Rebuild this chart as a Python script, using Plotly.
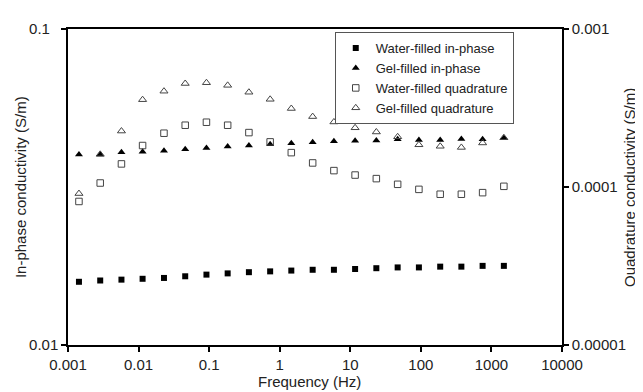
import plotly.graph_objects as go

freq = [0.00143, 0.00286, 0.00572, 0.0114, 0.0229, 0.0458, 0.0916, 0.183, 0.366, 0.732,
        1.46, 2.93, 5.86, 11.7, 23.4, 46.9, 93.8, 188, 375, 750, 1500]

water_inphase = [0.01585, 0.0160, 0.0161, 0.0162, 0.0163, 0.0165, 0.0167, 0.01685, 0.0170, 0.0171,
                 0.0172, 0.0173, 0.0173, 0.0174, 0.0175, 0.0176, 0.0176, 0.0177, 0.0177, 0.0178, 0.0178]
gel_inphase = [0.0401, 0.0401, 0.0407, 0.0409, 0.0412, 0.0416, 0.0420, 0.0425, 0.0428, 0.0432,
               0.0435, 0.0438, 0.0441, 0.0443, 0.0444, 0.0448, 0.0445, 0.0445, 0.0449, 0.0448, 0.0452]
water_quad = [8.1e-5, 1.06e-4, 1.40e-4, 1.83e-4, 2.19e-4, 2.46e-4, 2.57e-4, 2.46e-4, 2.21e-4, 1.93e-4,
              1.65e-4, 1.42e-4, 1.27e-4, 1.19e-4, 1.13e-4, 1.04e-4, 9.66e-5, 9.0e-5, 9.0e-5, 9.21e-5, 1.01e-4]
gel_quad = [9.09e-5, 1.61e-4, 2.26e-4, 3.57e-4, 4.04e-4, 4.52e-4, 4.57e-4, 4.40e-4, 3.98e-4, 3.59e-4,
            3.14e-4, 2.79e-4, 2.58e-4, 2.37e-4, 2.23e-4, 2.08e-4, 1.85e-4, 1.81e-4, 1.78e-4, 1.90e-4, 2.05e-4]

x_ticks = [0.001, 0.01, 0.1, 1, 10, 100, 1000, 10000]
x_ticktext = ["0.001", "0.01", "0.1", "1", "10", "100", "1000", "10000"]
left_ticks = [0.01, 0.1]
left_ticktext = ["0.01", "0.1\u2007"]
right_ticks = [0.00001, 0.0001, 0.001]
right_ticktext = ["0.00001", "0.0001", "0.001"]

x_title = "Frequency (Hz)"
left_title = "In-phase conductivity (S/m)"
right_title = "Quadrature conductivity (S/m)"

FONT = "Liberation Sans, Arial, Helvetica, sans-serif"
TXT = "#222222"

fig = go.Figure()
fig.add_trace(go.Scatter(x=freq, y=water_inphase, mode="markers", name="Water-filled in-phase",
                         marker=dict(symbol="square", size=6, color="black")))
fig.add_trace(go.Scatter(x=freq, y=gel_inphase, mode="markers", name="Gel-filled in-phase",
                         marker=dict(symbol="triangle-up", size=7, color="black")))
fig.add_trace(go.Scatter(x=freq, y=water_quad, mode="markers", name="Water-filled quadrature", yaxis="y2",
                         marker=dict(symbol="square-open", size=6.5, color="#444444", line=dict(width=1))))
fig.add_trace(go.Scatter(x=freq, y=gel_quad, mode="markers", name="Gel-filled quadrature", yaxis="y2",
                         marker=dict(symbol="triangle-up-open", size=7, color="#444444", line=dict(width=1))))

axis_common = dict(showgrid=False, zeroline=False, showline=True, linecolor="black", linewidth=1.5,
                   ticks="outside", ticklen=5, tickcolor="black", tickwidth=1.5,
                   tickfont=dict(family=FONT, size=15, color=TXT))

title_font = dict(family=FONT, size=15, color=TXT)

# the page body has an 8px default margin, so the figure is 8px smaller than the window
fig.update_layout(
    width=635, height=384,
    margin=dict(l=60, r=81, t=12, b=47),
    paper_bgcolor="white", plot_bgcolor="white",
    showlegend=True,
    legend=dict(x=0.54, y=0.99, xanchor="left", yanchor="top",
                bgcolor="white", bordercolor="#555555", borderwidth=1,
                font=dict(family=FONT, size=13, color=TXT), tracegroupgap=0, itemwidth=30),
    xaxis=dict(type="log", range=[-3, 4], tickvals=x_ticks, ticktext=x_ticktext, mirror=True,
               **axis_common),
    yaxis=dict(type="log", range=[-2, -1], tickvals=left_ticks, ticktext=left_ticktext,
               **axis_common),
    yaxis2=dict(type="log", range=[-5, -3], tickvals=right_ticks, ticktext=right_ticktext,
                overlaying="y", side="right", **axis_common),
    annotations=[
        dict(text=x_title, xref="paper", yref="paper", x=0.488, y=-0.114,
             xanchor="center", yanchor="middle", showarrow=False, font=title_font),
        dict(text=left_title, xref="paper", yref="paper", x=-0.097, y=0.5, textangle=-90,
             xanchor="center", yanchor="middle", showarrow=False, font=title_font),
        dict(text=right_title, xref="paper", yref="paper", x=1.1356, y=0.5, textangle=-90,
             xanchor="center", yanchor="middle", showarrow=False, font=title_font),
    ],
)

fig.write_html("out.html")
